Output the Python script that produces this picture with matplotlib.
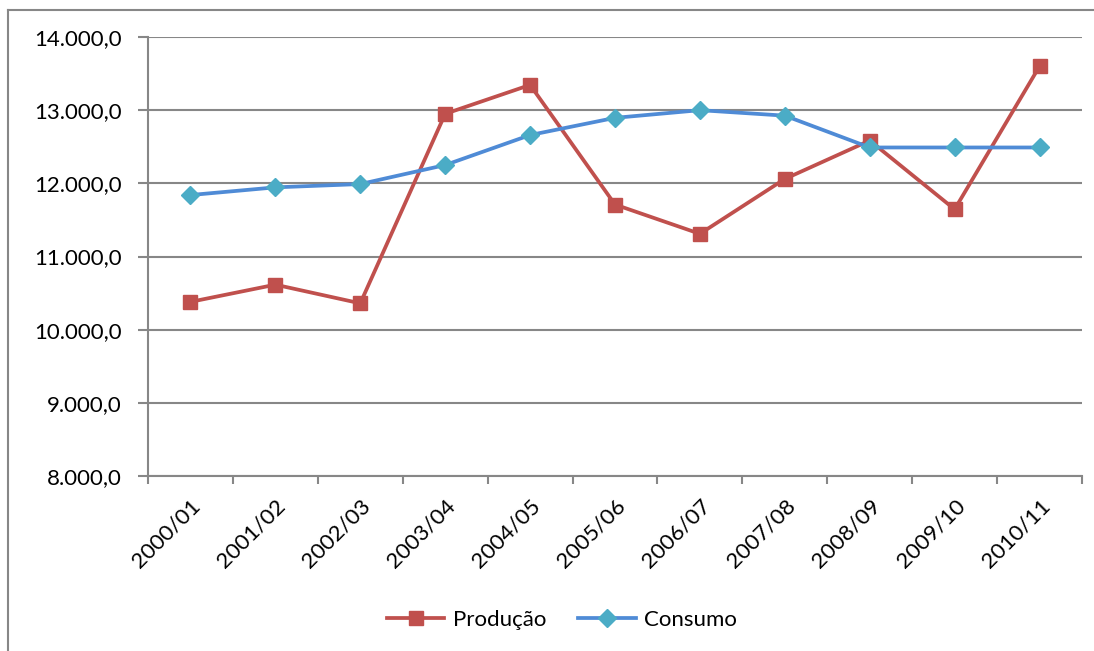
import matplotlib.pyplot as plt
from matplotlib.lines import Line2D
from matplotlib.ticker import FuncFormatter, MultipleLocator

safras = ["2000/01", "2001/02", "2002/03", "2003/04", "2004/05", "2005/06",
          "2006/07", "2007/08", "2008/09", "2009/10", "2010/11"]
producao = [10380, 10615, 10360, 12950, 13345, 11710, 11310, 12060, 12585, 11645, 13600]
consumo = [11840, 11945, 11990, 12250, 12660, 12895, 13000, 12925, 12490, 12490, 12490]

RED = "#C0504D"
BLUE_LINE = "#4F8BD6"
BLUE_MARK = "#4BACC6"
GRID = "#878787"

plt.rcParams["font.family"] = ["Lato", "DejaVu Sans"]


def fmt_br(v, _pos):
    s = f"{v:,.1f}"
    return s.replace(",", "X").replace(".", ",").replace("X", ".")


fig = plt.figure(figsize=(10.94, 6.51), dpi=100)
ax = fig.add_axes([148 / 1094, 1 - 476 / 651, (1082 - 148) / 1094, (476 - 37) / 651])

# outer chart frame (left and top edges only fall inside the image)
fig.add_artist(Line2D([8 / 1094, 8 / 1094], [0, 1 - 10 / 651], transform=fig.transFigure,
                      color=GRID, lw=1.5))
fig.add_artist(Line2D([8 / 1094, 1], [1 - 10 / 651, 1 - 10 / 651], transform=fig.transFigure,
                      color=GRID, lw=1.5))

x = list(range(len(safras)))
ax.plot(x, producao, color=RED, lw=2.7, marker="s", ms=10.5, mfc=RED, mec=RED,
        label="Produção", zorder=3)
ax.plot(x, consumo, color=BLUE_LINE, lw=2.7, marker="D", ms=9, mfc=BLUE_MARK, mec=BLUE_MARK,
        label="Consumo", zorder=4)

ax.set_xlim(-0.5, len(safras) - 0.5)
ax.set_ylim(8000, 14000)
ax.yaxis.set_major_locator(MultipleLocator(1000))
ax.yaxis.set_major_formatter(FuncFormatter(fmt_br))
ax.grid(axis="y", color=GRID, lw=1.5)
ax.set_axisbelow(True)

for side in ("top", "right"):
    ax.spines[side].set_visible(False)
for side in ("left", "bottom"):
    ax.spines[side].set_color(GRID)
    ax.spines[side].set_linewidth(1.5)

ax.set_xticks(x)
ax.set_xticklabels(safras, rotation=45, ha="right", rotation_mode="anchor")
ax.set_xticks([i - 0.5 for i in range(len(safras) + 1)], minor=True)
ax.tick_params(axis="x", which="major", length=0, pad=14, labelsize=16)
ax.tick_params(axis="x", which="minor", length=6, width=1.5, color=GRID)
ax.tick_params(axis="y", length=7, width=1.5, color=GRID, labelsize=16, pad=12)

fig.legend(loc="center", bbox_to_anchor=(562 / 1094, 1 - 620 / 651), ncol=2, frameon=False,
           fontsize=16, handlelength=2.6, columnspacing=1.4, handletextpad=0.4)

fig.savefig("out.png", dpi=100)
